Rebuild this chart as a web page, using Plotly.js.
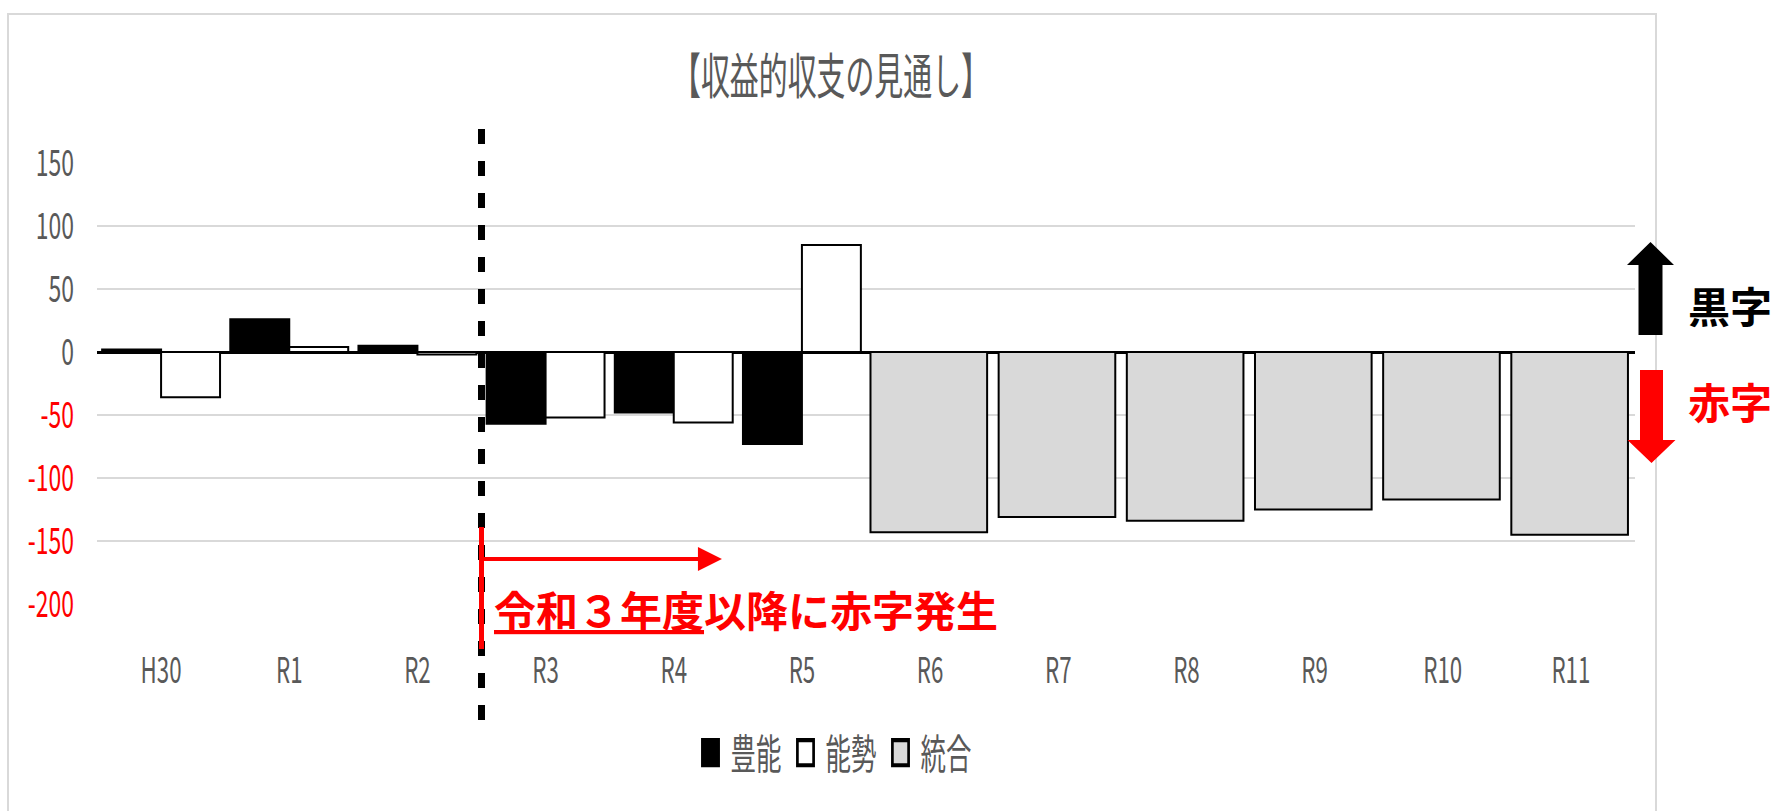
<!DOCTYPE html>
<html>
<head>
<meta charset="utf-8">
<script src="https://cdn.plot.ly/plotly-3.0.1.min.js"></script>
<style>
html, body { margin: 0; padding: 0; background: #ffffff; }
#chart { width: 1777px; height: 811px; }
/* the reference's Excel text is horizontally condensed */
#chart .gtitle { transform-box: fill-box; transform-origin: center; transform: scaleX(0.59); }
#chart g.xtick { transform-box: fill-box; transform-origin: center; transform: scaleX(0.62); }
#chart g.ytick { transform-box: fill-box; transform-origin: right center; transform: scaleX(0.62); }
#chart text.legendtext { transform-box: fill-box; transform-origin: left center; transform: scaleX(0.62); }
#chart g.legendpoints { transform-box: fill-box; transform-origin: center; transform: scale(1.35, 2.1); }
</style>
</head>
<body>
<div id="chart"></div>
<script>
// ---- data ----
const categories = ['H30', 'R1', 'R2', 'R3', 'R4', 'R5', 'R6', 'R7', 'R8', 'R9', 'R10', 'R11'];
const toyono = [2, 26, 5, -57, -48, -73, null, null, null, null, null, null];   // 豊能
const nose   = [-36, 4, -2, -52, -56, 85, null, null, null, null, null, null];  // 能勢
const togo   = [null, null, null, null, null, null, -143, -131, -134, -125, -117, -145]; // 統合
const seriesNames = ['豊能', '能勢', '統合'];
const yTickValues = [-200, -150, -100, -50, 0, 50, 100, 150];
const titleText = '【収益的収支の見通し】';
const noteText = '<u>令和３年度</u>以降に赤字発生';
const surplusText = '黒字';
const deficitText = '赤字';

// ---- layout geometry (pixels) ----
const W = 1777, H = 811;
const M = { l: 97, r: W - 1635, t: 163, b: H - 604 };
const PW = W - M.l - M.r, PH = H - M.t - M.b;
const px = x => (x - M.l) / PW;          // pixel -> paper x
const py = y => (H - M.b - y) / PH;      // pixel -> paper y

const gray = '#595959';
const jp = '"Noto Sans CJK JP", "Noto Sans", sans-serif';

const yTickText = yTickValues.map(v => v < 0
  ? '<span style="color:#ff0000">' + v + '</span>'
  : String(v));

const traces = [
  { type: 'bar', name: seriesNames[0], x: categories, y: toyono,
    width: 0.46, offset: -0.46,
    marker: { color: '#000000', line: { color: '#000000', width: 2 } } },
  { type: 'bar', name: seriesNames[1], x: categories, y: nose,
    width: 0.46, offset: 0,
    marker: { color: '#ffffff', line: { color: '#000000', width: 2 } } },
  { type: 'bar', name: seriesNames[2], x: categories, y: togo,
    width: 0.91, offset: -0.465,
    marker: { color: '#d9d9d9', line: { color: '#000000', width: 2 } } }
];

function arrowPath(cx, shaftHalf, headHalf, tailY, baseY, tipY) {
  const pts = [[cx - shaftHalf, tailY], [cx + shaftHalf, tailY], [cx + shaftHalf, baseY],
               [cx + headHalf, baseY], [cx, tipY], [cx - headHalf, baseY], [cx - shaftHalf, baseY]];
  return 'M' + pts.map(p => px(p[0]).toFixed(5) + ',' + py(p[1]).toFixed(5)).join('L') + 'Z';
}

const layout = {
  width: W, height: H,
  margin: M,
  paper_bgcolor: '#ffffff', plot_bgcolor: '#ffffff',
  barmode: 'overlay',
  showlegend: true,
  title: { text: titleText, font: { family: jp, size: 49, color: gray },
           xref: 'container', yref: 'container', x: 831 / W, y: 1 - 77 / H,
           xanchor: 'center', yanchor: 'middle' },
  xaxis: { type: 'category', categoryorder: 'array', categoryarray: categories,
           range: [-0.5, categories.length - 0.5],
           showgrid: false, zeroline: false, showline: false, ticks: '',
           tickfont: { family: jp, size: 36, color: gray },
           ticklabelstandoff: 42, fixedrange: true },
  yaxis: { range: [-200, 150], tickmode: 'array', tickvals: yTickValues, ticktext: yTickText,
           showgrid: true, gridcolor: '#d9d9d9', gridwidth: 2,
           zeroline: true, zerolinecolor: '#000000', zerolinewidth: 3,
           showline: false, ticks: '',
           tickfont: { family: jp, size: 37, color: gray },
           ticklabelstandoff: 22, fixedrange: true },
  legend: { orientation: 'h', xref: 'container', yref: 'container',
            x: 833 / W, y: 1 - 753 / H, xanchor: 'center', yanchor: 'middle',
            font: { family: jp, size: 41, color: gray },
            entrywidth: 50, entrywidthmode: 'pixels', itemwidth: 30,
            bgcolor: 'rgba(0,0,0,0)' },
  shapes: [
    // chart area border
    { type: 'rect', xref: 'paper', yref: 'paper', x0: px(8), x1: px(1656), y0: py(816), y1: py(14),
      line: { color: '#d9d9d9', width: 2 }, fillcolor: 'rgba(0,0,0,0)', layer: 'below' },
    // dashed boundary between R2 and R3
    { type: 'line', xref: 'x', yref: 'paper', x0: 2.5, x1: 2.5, y0: py(720), y1: py(125),
      line: { color: '#000000', width: 7, dash: '15px,17px' } },
    // red vertical marker
    { type: 'line', xref: 'x', yref: 'paper', x0: 2.5, x1: 2.5, y0: py(649), y1: py(527),
      line: { color: '#ff0000', width: 5 } },
    // black up arrow (surplus)
    { type: 'path', xref: 'paper', yref: 'paper', path: arrowPath(1650.5, 12, 23.5, 335, 265, 242),
      fillcolor: '#000000', line: { width: 0 } },
    // red down arrow (deficit)
    { type: 'path', xref: 'paper', yref: 'paper', path: arrowPath(1651.5, 11.5, 24, 370, 440, 463),
      fillcolor: '#ff0000', line: { width: 0 } }
  ],
  annotations: [
    { xref: 'x', yref: 'y', axref: 'x', ayref: 'y', x: 4.376, y: -164.3, ax: 2.5, ay: -164.3,
      text: '', showarrow: true, arrowhead: 2, arrowsize: 1.2, arrowwidth: 4,
      arrowcolor: '#ff0000', standoff: 0, startstandoff: 0 },
    { xref: 'x', yref: 'paper', x: 2.58, y: py(608), xanchor: 'left', yanchor: 'middle',
      text: noteText, showarrow: false,
      font: { family: jp, size: 42, color: '#ff0000', weight: 'bold' } },
    { xref: 'paper', yref: 'paper', x: px(1686), y: py(304), xanchor: 'left', yanchor: 'middle',
      text: surplusText, showarrow: false,
      font: { family: jp, size: 42, color: '#000000', weight: 'bold' } },
    { xref: 'paper', yref: 'paper', x: px(1686), y: py(400), xanchor: 'left', yanchor: 'middle',
      text: deficitText, showarrow: false,
      font: { family: jp, size: 42, color: '#ff0000', weight: 'bold' } }
  ]
};

Plotly.newPlot('chart', traces, layout, { displayModeBar: false, staticPlot: true });
</script>
</body>
</html>
